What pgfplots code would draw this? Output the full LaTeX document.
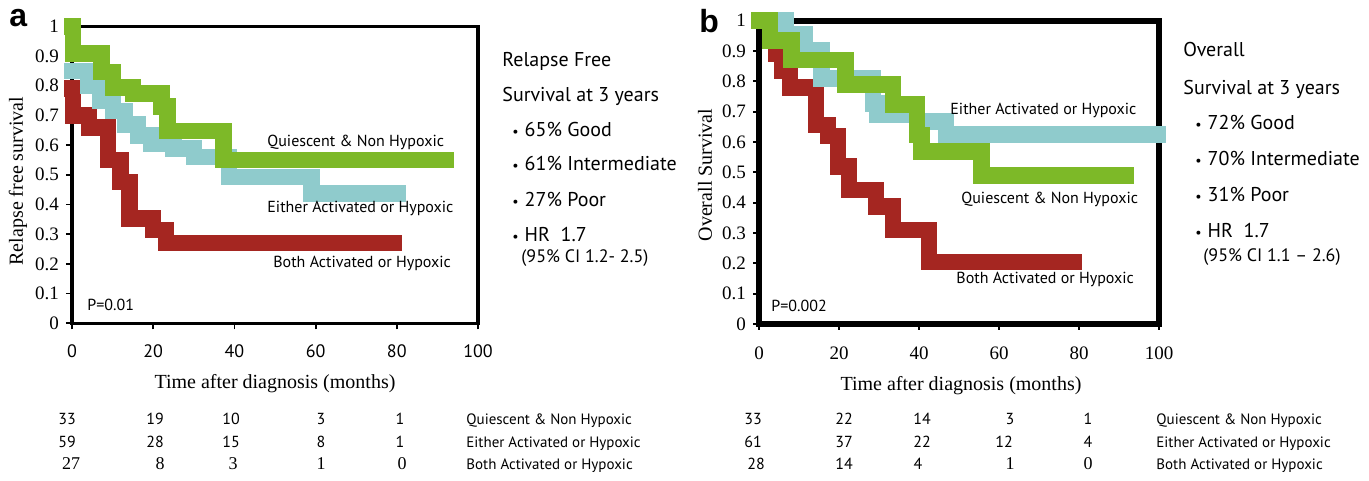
\documentclass[border=0pt]{standalone}
\usepackage{fontspec}
\setmainfont{Liberation Serif}
\newfontfamily\ptsans{PT Sans}
\newfontfamily\arialf{Liberation Sans}
\usepackage{pgfplots}
\usepackage{pgfplotstable}
\pgfplotsset{compat=1.18}
\definecolor{cgreen}{RGB}{125,185,40}
\definecolor{ccyan}{RGB}{143,203,204}
\definecolor{cred}{RGB}{165,38,33}

\pgfplotstableread{
x y
0 1.0
0.3 0.908
7.3 0.846
10.1 0.794
15 0.774
22.1 0.73
23.5 0.648
37.3 0.55
92 0.55
}\greenA
\pgfplotstableread{
x y
0 0.85
4 0.80
6.9 0.75
10.1 0.715
13 0.67
16.3 0.633
19.5 0.605
25 0.588
30 0.56
38.7 0.493
59 0.437
80.3 0.437
}\cyanA
\pgfplotstableread{
x y
0 0.79
0.3 0.70
4.2 0.66
8.9 0.55
12 0.475
14.2 0.353
20 0.314
23.2 0.271
79.2 0.271
}\redA
\pgfplotstableread{
x y
0 1.0
2.7 0.935
8.1 0.87
21.6 0.79
33.5 0.724
39.5 0.623
40.6 0.568
55.6 0.489
91.8 0.489
}\greenB
\pgfplotstableread{
x y
0 1.0
6.7 0.955
11.4 0.903
15.6 0.81
28.5 0.727
29.5 0.69
39.5 0.668
46.8 0.624
99.8 0.624
}\cyanB
\pgfplotstableread{
x y
0 1.0
4.3 0.89
5.8 0.835
7.7 0.78
14.3 0.656
17.25 0.62
19.75 0.52
22.5 0.442
29.3 0.387
33.5 0.31
42.5 0.205
78.6 0.205
}\redB

\pgfplotsset{
  km/.style={const plot, line width=8.25pt, line cap=rect, line join=miter, no markers},
  kmaxis/.style={scale only axis, anchor=south west, xmin=0, xmax=100, ymin=0, ymax=1,
    clip=false, tick pos=left, tick align=outside,
    tick style={black, line width=0.9pt},
    major tick length=3pt,
    xtick={0,20,40,60,80,100},
    ytick={0,0.1,0.2,0.3,0.4,0.5,0.6,0.7,0.8,0.9,1},
    yticklabels={0,0.1,0.2,0.3,0.4,0.5,0.6,0.7,0.8,0.9,1},
    xticklabels={0,20,40,60,80,100},
    yticklabel style={font=\fontsize{9.5}{10}\selectfont},
  },
}

\begin{document}
\begin{tikzpicture}
\useasboundingbox (0,0) rectangle (684.5pt,240.5pt);

% Panel a
\begin{axis}[kmaxis, at={(36pt,78.85pt)}, width=203pt, height=148.5pt,
  axis line style={line width=1.65pt},
  xticklabel style={font=\ptsans\fontsize{9}{10}\selectfont, yshift=-4pt}]
\addplot[km, cred] table {\redA};
\addplot[km, ccyan] table {\cyanA};
\addplot[km, cgreen] table {\greenA};
\end{axis}

% Panel b
\begin{axis}[kmaxis, at={(379.5pt,78.5pt)}, width=200pt, height=151.65pt,
  axis line style={line width=3pt},
  xticklabel style={font=\fontsize{9.5}{10}\selectfont, yshift=-5pt}]
\addplot[km, cred] table {\redB};
\addplot[km, ccyan] table {\cyanB};
\addplot[km, cgreen] table {\greenB};
\end{axis}

\begin{scope}[x=0.5pt, y=-0.5pt, shift={(0,240.5pt)}]
% panel letters
\node[anchor=base west, inner sep=0, font=\arialf\bfseries\fontsize{16}{16}\selectfont] at (9,27) {a};
\node[anchor=base west, inner sep=0, font=\arialf\bfseries\fontsize{16}{16}\selectfont] at (699,33) {b};
% y labels
\node[rotate=90, inner sep=0, font=\fontsize{10}{10}\selectfont] at (18,181) {Relapse free survival};
\node[rotate=90, inner sep=0, font=\fontsize{10}{10}\selectfont] at (705,175) {Overall Survival};
% x labels
\node[anchor=base, inner sep=0, font=\fontsize{10}{10}\selectfont] at (275,389) {Time after diagnosis (months)};
\node[anchor=base, inner sep=0, font=\fontsize{10}{10}\selectfont] at (961,391) {Time after diagnosis (months)};
% P values
\node[anchor=base west, inner sep=0, font=\ptsans\fontsize{8}{8}\selectfont] at (87,311) {P=0.01};
\node[anchor=base west, inner sep=0, font=\ptsans\fontsize{8}{8}\selectfont] at (771,312) {P=0.002};
% curve labels
\begin{scope}[every node/.style={anchor=base west, inner sep=0, font=\ptsans\fontsize{8}{8}\selectfont}]
\node at (267,147) {Quiescent \& Non Hypoxic};
\node at (267,213) {Either Activated or Hypoxic};
\node at (273,268) {Both Activated or Hypoxic};
\node at (950,115) {Either Activated or Hypoxic};
\node at (961,204) {Quiescent \& Non Hypoxic};
\node at (956,284) {Both Activated or Hypoxic};
\end{scope}
% right texts
\begin{scope}[every node/.style={anchor=base west, inner sep=0, font=\ptsans\fontsize{10}{10}\selectfont}]
\node at (502,67) {Relapse Free};
\node at (502,102) {Survival at 3 years};
\node at (512,137) {{\fontsize{7}{7}\selectfont•}\hspace{3pt}65\% Good};
\node at (512,171) {{\fontsize{7}{7}\selectfont•}\hspace{3pt}61\% Intermediate};
\node at (512,207) {{\fontsize{7}{7}\selectfont•}\hspace{3pt}27\% Poor};
\node at (512,242) {{\fontsize{7}{7}\selectfont•}\hspace{3pt}HR\ \ 1.7};
\node[font=\ptsans\fontsize{9}{9}\selectfont] at (521,263) {(95\% CI 1.2- 2.5)};
\node at (1183,57) {Overall};
\node at (1183,95) {Survival at 3 years};
\node at (1195,130) {{\fontsize{7}{7}\selectfont•}\hspace{3pt}72\% Good};
\node at (1195,166) {{\fontsize{7}{7}\selectfont•}\hspace{3pt}70\% Intermediate};
\node at (1195,202) {{\fontsize{7}{7}\selectfont•}\hspace{3pt}31\% Poor};
\node at (1195,238) {{\fontsize{7}{7}\selectfont•}\hspace{3pt}HR\ \ 1.7};
\node[font=\ptsans\fontsize{9}{9}\selectfont] at (1203,262) {(95\% CI 1.1 – 2.6)};
\end{scope}
% risk tables
\begin{scope}[every node/.style={anchor=base, inner sep=0, font=\ptsans\fontsize{8}{8}\selectfont}]
\node at (67,425) {33}; \node at (155,425) {19}; \node at (231,425) {10}; \node at (321,425) {3}; \node at (400,425) {1};
\node at (67,448) {59}; \node at (155,448) {28}; \node at (231,448) {15}; \node at (321,448) {8}; \node at (400,448) {1};
\node[font=\fontsize{9}{9}\selectfont] at (71,470) {27}; \node[font=\fontsize{9}{9}\selectfont] at (160,470) {8};
\node[font=\fontsize{9}{9}\selectfont] at (233,470) {3}; \node[font=\fontsize{9}{9}\selectfont] at (321,470) {1};
\node[font=\fontsize{9}{9}\selectfont] at (402,470) {0};
\node at (753,425) {33}; \node at (844,425) {22}; \node at (922,425) {14}; \node at (1010,425) {3}; \node at (1088,425) {1};
\node at (753,448) {61}; \node at (844,448) {37}; \node at (922,448) {22}; \node at (1004,448) {12}; \node at (1088,448) {4};
\node at (756,470) {28}; \node at (844,470) {14}; \node at (918,470) {4};
\node[font=\fontsize{9}{9}\selectfont] at (1010,470) {1}; \node[font=\fontsize{9}{9}\selectfont] at (1088,470) {0};
\end{scope}
\begin{scope}[every node/.style={anchor=base west, inner sep=0, font=\ptsans\fontsize{7.5}{8}\selectfont}]
\node at (466,425) {Quiescent \& Non Hypoxic};
\node at (466,448) {Either Activated or Hypoxic};
\node at (466,470) {Both Activated or Hypoxic};
\node at (1156,425) {Quiescent \& Non Hypoxic};
\node at (1156,448) {Either Activated or Hypoxic};
\node at (1156,470) {Both Activated or Hypoxic};
\end{scope}
\end{scope}
\end{tikzpicture}
\end{document}
